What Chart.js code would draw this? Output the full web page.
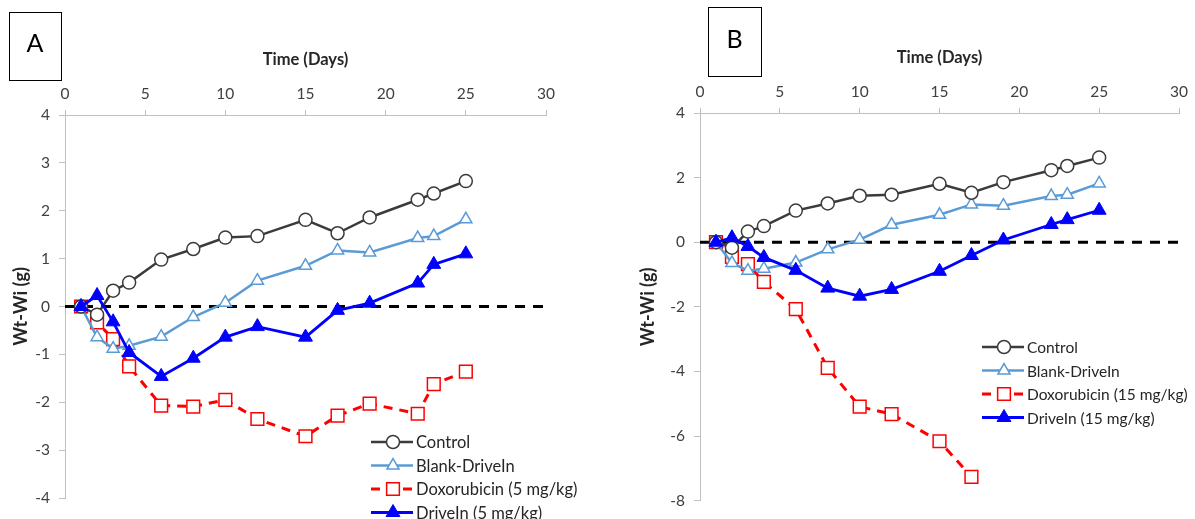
<!DOCTYPE html>
<html>
<head>
<meta charset="utf-8">
<script src="https://cdn.jsdelivr.net/npm/chart.js@4.4.0/dist/chart.umd.min.js"></script>
<style>
  html, body { margin: 0; padding: 0; background: #fff; }
  .wrap { position: absolute; top: 0; height: 519px; }
  #wrapA { left: 0; width: 600px; }
  #wrapB { left: 600px; width: 595px; }
</style>
</head>
<body>
<div class="wrap" id="wrapA"><canvas id="chartA"></canvas></div>
<div class="wrap" id="wrapB"><canvas id="chartB"></canvas></div>
<script>
// days of measurement
const days = [1, 2, 3, 4, 6, 8, 10, 12, 15, 17, 19, 22, 23, 25]
const baselineDays = [0, 30]
const baseline = [0, 0]

// Wt-Wi (g), shared by both panels
const control = [0, -0.17, 0.33, 0.5, 0.98, 1.2, 1.44, 1.47, 1.81, 1.53, 1.86, 2.23, 2.36, 2.62]
const blank = [0, -0.64, -0.88, -0.82, -0.63, -0.22, 0.08, 0.54, 0.85, 1.17, 1.13, 1.43, 1.47, 1.82]

// panel A (5 mg/kg)
const doxoA = [0, -0.33, -0.68, -1.25, -2.07, -2.09, -1.95, -2.35, -2.71, -2.28, -2.03, -2.24, -1.62, -1.36]
const driveA = [0, 0.23, -0.32, -0.96, -1.46, -1.08, -0.64, -0.42, -0.64, -0.08, 0.07, 0.49, 0.88, 1.1]

// panel B (15 mg/kg) - doxorubicin group stops at day 17
const doxoB = [0, -0.45, -0.68, -1.23, -2.07, -3.89, -5.09, -5.32, -6.16, -7.26]
const driveB = [0, 0.14, -0.13, -0.47, -0.87, -1.42, -1.67, -1.46, -0.9, -0.41, 0.07, 0.55, 0.7, 0.99]

const labelsA = ['Control', 'Blank-DriveIn', 'Doxorubicin (5 mg/kg)', 'DriveIn (5 mg/kg)']
const labelsB = ['Control', 'Blank-DriveIn', 'Doxorubicin (15 mg/kg)', 'DriveIn (15 mg/kg)']

const FONT = 'Lato'
const pts = (xs, ys) => ys.map((y, i) => ({ x: xs[i], y: y }))

function makeDatasets (labels, doxo, drive) {
  return [
    {
      label: labels[0], data: pts(days, control), order: 2,
      borderColor: '#3b3b3b', borderWidth: 2.5,
      pointStyle: 'circle', pointRadius: 6.5, pointBorderWidth: 1.5,
      pointBackgroundColor: '#fff', pointBorderColor: '#3b3b3b'
    },
    {
      label: labels[1], data: pts(days, blank), order: 3,
      borderColor: '#5b9bd5', borderWidth: 2.5,
      pointStyle: 'triangle', pointRadius: 7, pointBorderWidth: 1.5,
      pointBackgroundColor: '#fff', pointBorderColor: '#5b9bd5'
    },
    {
      label: labels[2], data: pts(days, doxo), order: 4,
      borderColor: '#ff0000', borderWidth: 3, borderDash: [9, 7],
      pointStyle: 'rect', pointRadius: 9, pointBorderWidth: 1.5,
      pointBackgroundColor: '#fff', pointBorderColor: '#ff0000'
    },
    {
      label: labels[3], data: pts(days, drive), order: 1,
      borderColor: '#0000ff', borderWidth: 2.8,
      pointStyle: 'triangle', pointRadius: 8, pointBorderWidth: 1,
      pointBackgroundColor: '#0000ff', pointBorderColor: '#0000ff'
    },
    {
      label: '', data: pts(baselineDays, baseline), order: 6,
      borderColor: '#000', borderWidth: 3, borderDash: [10, 8],
      pointRadius: 0
    }
  ]
}

function marker (ctx, style, r, x, y) {
  ctx.beginPath()
  if (style === 'circle') {
    ctx.arc(x, y, r, 0, Math.PI * 2)
  } else if (style === 'rect') {
    const s = r * Math.SQRT1_2
    ctx.rect(x - s, y - s, 2 * s, 2 * s)
  } else {
    const h = r * Math.sqrt(3) / 2
    ctx.moveTo(x, y - r)
    ctx.lineTo(x + h, y + r / 2)
    ctx.lineTo(x - h, y + r / 2)
    ctx.closePath()
  }
  ctx.fill()
  ctx.stroke()
}

const panelDecor = {
  id: 'panelDecor',
  afterDraw (chart, args, opts) {
    const ctx = chart.ctx
    const b = opts.box
    ctx.save()
    ctx.strokeStyle = '#000'
    ctx.lineWidth = 1
    ctx.strokeRect(b.x + 0.5, b.y + 0.5, b.w, b.h)
    ctx.fillStyle = '#000'
    ctx.font = '25px ' + FONT
    ctx.textAlign = 'center'
    ctx.textBaseline = 'middle'
    ctx.fillText(opts.letter, b.x + b.w / 2, b.y + b.h / 2 - 2)

    const lg = opts.legend
    let row = 0
    chart.data.datasets.forEach(ds => {
      if (!ds.label) return
      const y = lg.y + row * lg.rowH
      row++
      ctx.strokeStyle = ds.borderColor
      ctx.lineWidth = ds.borderWidth
      ctx.setLineDash(ds.borderDash || [])
      ctx.beginPath()
      ctx.moveTo(lg.x, y)
      ctx.lineTo(lg.x + 42, y)
      ctx.stroke()
      ctx.setLineDash([])
      ctx.fillStyle = ds.pointBackgroundColor
      ctx.strokeStyle = ds.pointBorderColor
      ctx.lineWidth = ds.pointBorderWidth
      marker(ctx, ds.pointStyle, ds.pointRadius, lg.x + 22, y)
      ctx.fillStyle = '#262626'
      ctx.font = lg.size + 'px ' + FONT
      ctx.textAlign = 'left'
      ctx.textBaseline = 'middle'
      ctx.fillText(ds.label, lg.x + 45, y + 1)
    })
    ctx.restore()
  }
}

function makeChart (id, cfg) {
  return new Chart(document.getElementById(id), {
    type: 'line',
    data: { datasets: makeDatasets(cfg.labels, cfg.doxo, cfg.drive) },
    plugins: [panelDecor],
    options: {
      responsive: true,
      maintainAspectRatio: false,
      animation: false,
      layout: { padding: cfg.padding },
      plugins: {
        legend: { display: false },
        tooltip: { enabled: false },
        panelDecor: { letter: cfg.letter, box: cfg.box, legend: cfg.legend }
      },
      scales: {
        x: {
          type: 'linear',
          position: 'top',
          min: 0,
          max: 30,
          ticks: { stepSize: 5, color: '#404040', font: { family: FONT, size: 15.5 }, padding: 7 },
          grid: { drawOnChartArea: false, color: '#bfbfbf', tickLength: 5 },
          border: { color: '#bfbfbf' },
          title: {
            display: true, text: 'Time (Days)', color: '#262626',
            font: { family: FONT, size: 16.5, weight: 'bold' },
            padding: { top: cfg.xTitleTop, bottom: 0 }
          },
          afterFit: s => { s.height = cfg.xHeight }
        },
        y: {
          type: 'linear',
          min: cfg.yMin,
          max: 4,
          ticks: { stepSize: cfg.yStep, color: '#404040', font: { family: FONT, size: 15.5 }, padding: 9 },
          grid: { drawOnChartArea: false, color: '#bfbfbf', tickLength: 6 },
          border: { color: '#bfbfbf' },
          title: {
            display: true, text: 'Wt-Wi (g)', color: '#262626',
            font: { family: FONT, size: 18, weight: 'bold' },
            padding: { top: cfg.yTitleTop, bottom: 0 }
          },
          afterFit: s => { s.width = cfg.yWidth }
        }
      }
    }
  })
}

makeChart('chartA', {
  labels: labelsA, doxo: doxoA, drive: driveA,
  letter: 'A', box: { x: 9, y: 12, w: 52, h: 68 },
  legend: { x: 371, y: 442, rowH: 23.5, size: 16.5 },
  padding: { left: 0, right: 54, top: 0, bottom: 21 },
  xHeight: 115, yWidth: 65, xTitleTop: 50, yTitleTop: 10,
  yMin: -4, yStep: 1
})

makeChart('chartB', {
  labels: labelsB, doxo: doxoB, drive: driveB,
  letter: 'B', box: { x: 108, y: 7, w: 53, h: 69 },
  legend: { x: 382, y: 347, rowH: 23.5, size: 15.5 },
  padding: { left: 0, right: 8, top: 0, bottom: 18 },
  xHeight: 113, yWidth: 100, xTitleTop: 48, yTitleTop: 37,
  yMin: -8, yStep: 2
})
</script>
</body>
</html>
